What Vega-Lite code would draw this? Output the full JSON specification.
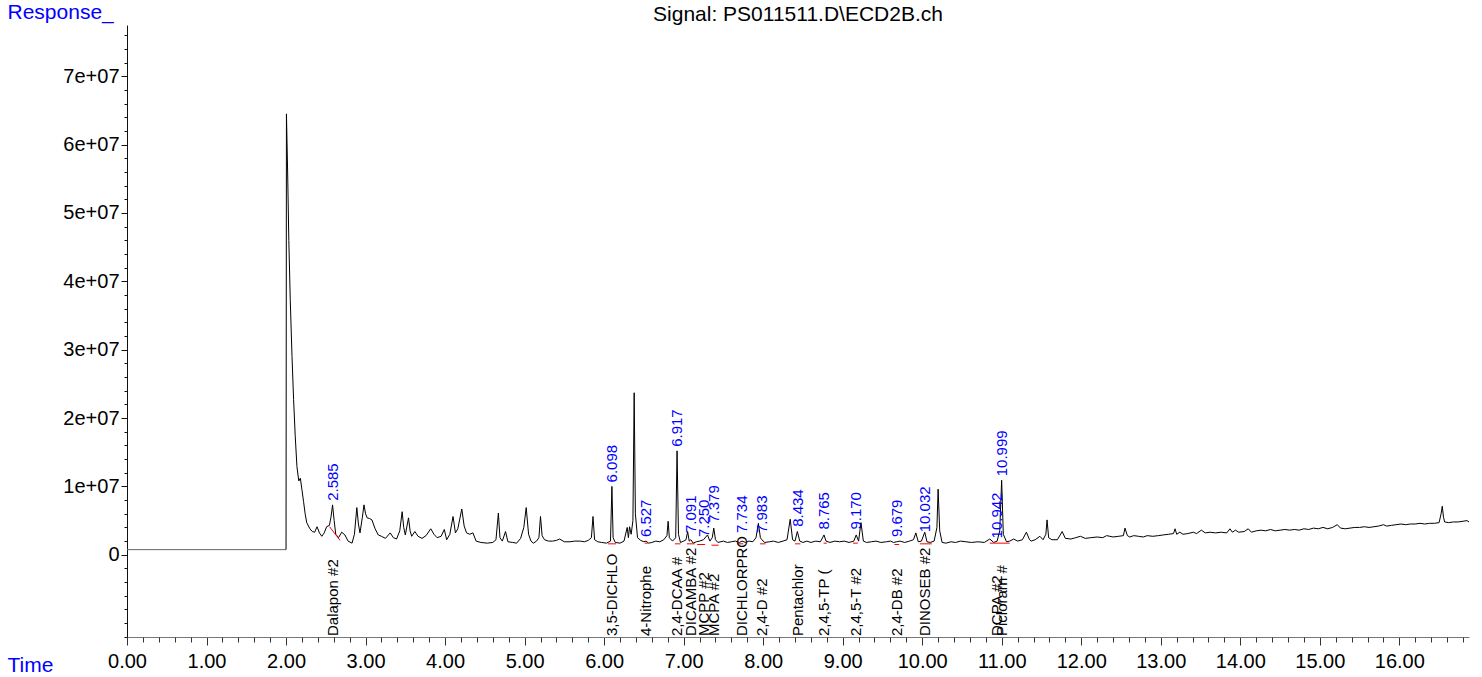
{
  "$schema": "https://vega.github.io/schema/vega-lite/v6.json",
  "autosize": {"type": "none"},
  "width": 1342,
  "height": 612,
  "padding": {"left": 127, "top": 25, "right": 13, "bottom": 40},
  "background": "white",
  "config": {
    "view": {"stroke": null},
    "font": "Liberation Sans",
    "axis": {"labelFont": "Liberation Sans", "titleFont": "Liberation Sans", "labelColor": "black", "grid": false}
  },
  "title": {"text": "Signal: PS011511.D\\ECD2B.ch", "anchor": "middle", "frame": "group", "font": "Liberation Sans", "fontSize": 21, "fontWeight": "normal", "color": "black", "offset": -24},
  "datasets": {
    "trace": [
      {"t": 0, "v": 7.5e5, "part": "delay"}, {"t": 2.0, "v": 7.5e5, "part": "delay"},
      {"t": 2.0, "v": 7.5e5, "part": "signal"}, {"t": 2.005, "v": 6.45e7, "part": "signal"}, {"t": 2.02, "v": 5.6e7, "part": "signal"}, {"t": 2.035, "v": 4.6e7, "part": "signal"}, {"t": 2.053, "v": 3.73e7, "part": "signal"}, {"t": 2.075, "v": 2.9e7, "part": "signal"}, {"t": 2.095, "v": 2.27e7, "part": "signal"}, {"t": 2.115, "v": 1.75e7, "part": "signal"}, {"t": 2.137, "v": 1.29e7, "part": "signal"}, {"t": 2.16, "v": 1.08e7, "part": "signal"}, {"t": 2.18, "v": 1.12e7, "part": "signal"}, {"t": 2.2, "v": 0.95e7, "part": "signal"}, {"t": 2.22, "v": 0.78e7, "part": "signal"}, {"t": 2.24, "v": 0.6e7, "part": "signal"}, {"t": 2.26, "v": 0.47e7, "part": "signal"}, {"t": 2.3, "v": 0.38e7, "part": "signal"}, {"t": 2.33, "v": 0.34e7, "part": "signal"}, {"t": 2.36, "v": 0.33e7, "part": "signal"}, {"t": 2.39, "v": 0.41e7, "part": "signal"}, {"t": 2.42, "v": 0.32e7, "part": "signal"}, {"t": 2.45, "v": 0.27e7, "part": "signal"}, {"t": 2.48, "v": 0.32e7, "part": "signal"}, {"t": 2.51, "v": 0.41e7, "part": "signal"}, {"t": 2.545, "v": 0.43e7, "part": "signal"}, {"t": 2.565, "v": 0.55e7, "part": "signal"}, {"t": 2.585, "v": 0.73e7, "part": "signal"}, {"t": 2.605, "v": 0.5e7, "part": "signal"}, {"t": 2.625, "v": 0.3e7, "part": "signal"}, {"t": 2.66, "v": 0.25e7, "part": "signal"}, {"t": 2.7, "v": 0.33e7, "part": "signal"}, {"t": 2.74, "v": 0.29e7, "part": "signal"}, {"t": 2.78, "v": 0.2e7, "part": "signal"}, {"t": 2.83, "v": 0.17e7, "part": "signal"}, {"t": 2.86, "v": 0.3e7, "part": "signal"}, {"t": 2.89, "v": 0.69e7, "part": "signal"}, {"t": 2.91, "v": 0.45e7, "part": "signal"}, {"t": 2.93, "v": 0.32e7, "part": "signal"}, {"t": 2.96, "v": 0.55e7, "part": "signal"}, {"t": 2.98, "v": 0.73e7, "part": "signal"}, {"t": 3.0, "v": 0.6e7, "part": "signal"}, {"t": 3.02, "v": 0.54e7, "part": "signal"}, {"t": 3.05, "v": 0.53e7, "part": "signal"}, {"t": 3.08, "v": 0.51e7, "part": "signal"}, {"t": 3.12, "v": 0.38e7, "part": "signal"}, {"t": 3.16, "v": 0.29e7, "part": "signal"}, {"t": 3.2, "v": 0.27e7, "part": "signal"}, {"t": 3.25, "v": 0.24e7, "part": "signal"}, {"t": 3.31, "v": 0.32e7, "part": "signal"}, {"t": 3.35, "v": 0.25e7, "part": "signal"}, {"t": 3.39, "v": 0.23e7, "part": "signal"}, {"t": 3.43, "v": 0.35e7, "part": "signal"}, {"t": 3.46, "v": 0.63e7, "part": "signal"}, {"t": 3.48, "v": 0.4e7, "part": "signal"}, {"t": 3.5, "v": 0.29e7, "part": "signal"}, {"t": 3.54, "v": 0.54e7, "part": "signal"}, {"t": 3.56, "v": 0.35e7, "part": "signal"}, {"t": 3.58, "v": 0.27e7, "part": "signal"}, {"t": 3.62, "v": 0.34e7, "part": "signal"}, {"t": 3.66, "v": 0.27e7, "part": "signal"}, {"t": 3.71, "v": 0.24e7, "part": "signal"}, {"t": 3.76, "v": 0.28e7, "part": "signal"}, {"t": 3.82, "v": 0.38e7, "part": "signal"}, {"t": 3.86, "v": 0.3e7, "part": "signal"}, {"t": 3.9, "v": 0.25e7, "part": "signal"}, {"t": 3.95, "v": 0.27e7, "part": "signal"}, {"t": 3.99, "v": 0.37e7, "part": "signal"}, {"t": 4.02, "v": 0.22e7, "part": "signal"}, {"t": 4.06, "v": 0.3e7, "part": "signal"}, {"t": 4.1, "v": 0.56e7, "part": "signal"}, {"t": 4.13, "v": 0.32e7, "part": "signal"}, {"t": 4.16, "v": 0.38e7, "part": "signal"}, {"t": 4.21, "v": 0.67e7, "part": "signal"}, {"t": 4.24, "v": 0.42e7, "part": "signal"}, {"t": 4.27, "v": 0.32e7, "part": "signal"}, {"t": 4.31, "v": 0.3e7, "part": "signal"}, {"t": 4.35, "v": 0.32e7, "part": "signal"}, {"t": 4.39, "v": 0.2e7, "part": "signal"}, {"t": 4.45, "v": 0.18e7, "part": "signal"}, {"t": 4.53, "v": 0.17e7, "part": "signal"}, {"t": 4.6, "v": 0.18e7, "part": "signal"}, {"t": 4.64, "v": 0.22e7, "part": "signal"}, {"t": 4.67, "v": 0.61e7, "part": "signal"}, {"t": 4.69, "v": 0.25e7, "part": "signal"}, {"t": 4.72, "v": 0.2e7, "part": "signal"}, {"t": 4.76, "v": 0.34e7, "part": "signal"}, {"t": 4.79, "v": 0.19e7, "part": "signal"}, {"t": 4.85, "v": 0.18e7, "part": "signal"}, {"t": 4.9, "v": 0.17e7, "part": "signal"}, {"t": 4.95, "v": 0.24e7, "part": "signal"}, {"t": 4.99, "v": 0.4e7, "part": "signal"}, {"t": 5.02, "v": 0.69e7, "part": "signal"}, {"t": 5.05, "v": 0.3e7, "part": "signal"}, {"t": 5.08, "v": 0.2e7, "part": "signal"}, {"t": 5.11, "v": 0.17e7, "part": "signal"}, {"t": 5.15, "v": 0.2e7, "part": "signal"}, {"t": 5.18, "v": 0.25e7, "part": "signal"}, {"t": 5.2, "v": 0.56e7, "part": "signal"}, {"t": 5.22, "v": 0.28e7, "part": "signal"}, {"t": 5.25, "v": 0.22e7, "part": "signal"}, {"t": 5.3, "v": 0.2e7, "part": "signal"}, {"t": 5.35, "v": 0.2e7, "part": "signal"}, {"t": 5.4, "v": 0.21e7, "part": "signal"}, {"t": 5.44, "v": 0.23e7, "part": "signal"}, {"t": 5.5, "v": 0.19e7, "part": "signal"}, {"t": 5.57, "v": 0.19e7, "part": "signal"}, {"t": 5.63, "v": 0.2e7, "part": "signal"}, {"t": 5.7, "v": 0.2e7, "part": "signal"}, {"t": 5.75, "v": 0.19e7, "part": "signal"}, {"t": 5.8, "v": 0.21e7, "part": "signal"}, {"t": 5.84, "v": 0.25e7, "part": "signal"}, {"t": 5.86, "v": 0.56e7, "part": "signal"}, {"t": 5.88, "v": 0.22e7, "part": "signal"}, {"t": 5.92, "v": 0.19e7, "part": "signal"}, {"t": 5.97, "v": 0.18e7, "part": "signal"}, {"t": 6.03, "v": 0.17e7, "part": "signal"}, {"t": 6.08, "v": 0.2e7, "part": "signal"}, {"t": 6.098, "v": 1.0e7, "part": "signal"}, {"t": 6.113, "v": 0.25e7, "part": "signal"}, {"t": 6.14, "v": 0.18e7, "part": "signal"}, {"t": 6.2, "v": 0.17e7, "part": "signal"}, {"t": 6.25, "v": 0.2e7, "part": "signal"}, {"t": 6.29, "v": 0.4e7, "part": "signal"}, {"t": 6.305, "v": 0.25e7, "part": "signal"}, {"t": 6.32, "v": 0.41e7, "part": "signal"}, {"t": 6.34, "v": 0.3e7, "part": "signal"}, {"t": 6.362, "v": 0.5e7, "part": "signal"}, {"t": 6.378, "v": 2.37e7, "part": "signal"}, {"t": 6.393, "v": 0.6e7, "part": "signal"}, {"t": 6.42, "v": 0.25e7, "part": "signal"}, {"t": 6.46, "v": 0.21e7, "part": "signal"}, {"t": 6.5, "v": 0.19e7, "part": "signal"}, {"t": 6.527, "v": 0.2e7, "part": "signal"}, {"t": 6.56, "v": 0.17e7, "part": "signal"}, {"t": 6.6, "v": 0.18e7, "part": "signal"}, {"t": 6.65, "v": 0.2e7, "part": "signal"}, {"t": 6.7, "v": 0.19e7, "part": "signal"}, {"t": 6.75, "v": 0.22e7, "part": "signal"}, {"t": 6.79, "v": 0.28e7, "part": "signal"}, {"t": 6.805, "v": 0.49e7, "part": "signal"}, {"t": 6.82, "v": 0.25e7, "part": "signal"}, {"t": 6.86, "v": 0.2e7, "part": "signal"}, {"t": 6.9, "v": 0.25e7, "part": "signal"}, {"t": 6.917, "v": 1.52e7, "part": "signal"}, {"t": 6.935, "v": 0.3e7, "part": "signal"}, {"t": 6.96, "v": 0.18e7, "part": "signal"}, {"t": 7.0, "v": 0.2e7, "part": "signal"}, {"t": 7.03, "v": 0.22e7, "part": "signal"}, {"t": 7.05, "v": 0.34e7, "part": "signal"}, {"t": 7.07, "v": 0.2e7, "part": "signal"}, {"t": 7.091, "v": 0.22e7, "part": "signal"}, {"t": 7.12, "v": 0.17e7, "part": "signal"}, {"t": 7.16, "v": 0.19e7, "part": "signal"}, {"t": 7.2, "v": 0.2e7, "part": "signal"}, {"t": 7.25, "v": 0.22e7, "part": "signal"}, {"t": 7.3, "v": 0.29e7, "part": "signal"}, {"t": 7.33, "v": 0.2e7, "part": "signal"}, {"t": 7.36, "v": 0.25e7, "part": "signal"}, {"t": 7.379, "v": 0.39e7, "part": "signal"}, {"t": 7.4, "v": 0.22e7, "part": "signal"}, {"t": 7.43, "v": 0.18e7, "part": "signal"}, {"t": 7.5, "v": 0.2e7, "part": "signal"}, {"t": 7.55, "v": 0.18e7, "part": "signal"}, {"t": 7.6, "v": 0.19e7, "part": "signal"}, {"t": 7.65, "v": 0.2e7, "part": "signal"}, {"t": 7.7, "v": 0.18e7, "part": "signal"}, {"t": 7.734, "v": 0.2e7, "part": "signal"}, {"t": 7.78, "v": 0.18e7, "part": "signal"}, {"t": 7.82, "v": 0.2e7, "part": "signal"}, {"t": 7.87, "v": 0.19e7, "part": "signal"}, {"t": 7.91, "v": 0.25e7, "part": "signal"}, {"t": 7.94, "v": 0.46e7, "part": "signal"}, {"t": 7.965, "v": 0.25e7, "part": "signal"}, {"t": 7.983, "v": 0.22e7, "part": "signal"}, {"t": 8.02, "v": 0.18e7, "part": "signal"}, {"t": 8.08, "v": 0.19e7, "part": "signal"}, {"t": 8.13, "v": 0.2e7, "part": "signal"}, {"t": 8.19, "v": 0.18e7, "part": "signal"}, {"t": 8.25, "v": 0.2e7, "part": "signal"}, {"t": 8.3, "v": 0.22e7, "part": "signal"}, {"t": 8.34, "v": 0.52e7, "part": "signal"}, {"t": 8.37, "v": 0.22e7, "part": "signal"}, {"t": 8.4, "v": 0.2e7, "part": "signal"}, {"t": 8.43, "v": 0.34e7, "part": "signal"}, {"t": 8.46, "v": 0.2e7, "part": "signal"}, {"t": 8.5, "v": 0.18e7, "part": "signal"}, {"t": 8.55, "v": 0.2e7, "part": "signal"}, {"t": 8.6, "v": 0.18e7, "part": "signal"}, {"t": 8.66, "v": 0.2e7, "part": "signal"}, {"t": 8.72, "v": 0.19e7, "part": "signal"}, {"t": 8.765, "v": 0.29e7, "part": "signal"}, {"t": 8.79, "v": 0.2e7, "part": "signal"}, {"t": 8.84, "v": 0.18e7, "part": "signal"}, {"t": 8.9, "v": 0.2e7, "part": "signal"}, {"t": 8.96, "v": 0.19e7, "part": "signal"}, {"t": 9.02, "v": 0.2e7, "part": "signal"}, {"t": 9.08, "v": 0.18e7, "part": "signal"}, {"t": 9.14, "v": 0.2e7, "part": "signal"}, {"t": 9.17, "v": 0.29e7, "part": "signal"}, {"t": 9.2, "v": 0.2e7, "part": "signal"}, {"t": 9.23, "v": 0.47e7, "part": "signal"}, {"t": 9.26, "v": 0.2e7, "part": "signal"}, {"t": 9.3, "v": 0.18e7, "part": "signal"}, {"t": 9.36, "v": 0.19e7, "part": "signal"}, {"t": 9.42, "v": 0.2e7, "part": "signal"}, {"t": 9.48, "v": 0.18e7, "part": "signal"}, {"t": 9.55, "v": 0.19e7, "part": "signal"}, {"t": 9.6, "v": 0.2e7, "part": "signal"}, {"t": 9.64, "v": 0.18e7, "part": "signal"}, {"t": 9.679, "v": 0.19e7, "part": "signal"}, {"t": 9.72, "v": 0.2e7, "part": "signal"}, {"t": 9.78, "v": 0.18e7, "part": "signal"}, {"t": 9.84, "v": 0.2e7, "part": "signal"}, {"t": 9.89, "v": 0.22e7, "part": "signal"}, {"t": 9.92, "v": 0.32e7, "part": "signal"}, {"t": 9.95, "v": 0.19e7, "part": "signal"}, {"t": 9.99, "v": 0.2e7, "part": "signal"}, {"t": 10.032, "v": 0.33e7, "part": "signal"}, {"t": 10.06, "v": 0.19e7, "part": "signal"}, {"t": 10.1, "v": 0.18e7, "part": "signal"}, {"t": 10.15, "v": 0.2e7, "part": "signal"}, {"t": 10.185, "v": 0.4e7, "part": "signal"}, {"t": 10.2, "v": 0.96e7, "part": "signal"}, {"t": 10.22, "v": 0.35e7, "part": "signal"}, {"t": 10.25, "v": 0.18e7, "part": "signal"}, {"t": 10.3, "v": 0.17e7, "part": "signal"}, {"t": 10.36, "v": 0.19e7, "part": "signal"}, {"t": 10.42, "v": 0.18e7, "part": "signal"}, {"t": 10.48, "v": 0.2e7, "part": "signal"}, {"t": 10.55, "v": 0.19e7, "part": "signal"}, {"t": 10.62, "v": 0.18e7, "part": "signal"}, {"t": 10.7, "v": 0.19e7, "part": "signal"}, {"t": 10.78, "v": 0.18e7, "part": "signal"}, {"t": 10.85, "v": 0.23e7, "part": "signal"}, {"t": 10.9, "v": 0.18e7, "part": "signal"}, {"t": 10.942, "v": 0.2e7, "part": "signal"}, {"t": 10.975, "v": 0.35e7, "part": "signal"}, {"t": 10.999, "v": 1.09e7, "part": "signal"}, {"t": 11.02, "v": 0.3e7, "part": "signal"}, {"t": 11.06, "v": 0.19e7, "part": "signal"}, {"t": 11.1, "v": 0.2e7, "part": "signal"}, {"t": 11.15, "v": 0.23e7, "part": "signal"}, {"t": 11.2, "v": 0.2e7, "part": "signal"}, {"t": 11.26, "v": 0.22e7, "part": "signal"}, {"t": 11.31, "v": 0.33e7, "part": "signal"}, {"t": 11.35, "v": 0.22e7, "part": "signal"}, {"t": 11.37, "v": 0.2e7, "part": "signal"}, {"t": 11.42, "v": 0.22e7, "part": "signal"}, {"t": 11.48, "v": 0.27e7, "part": "signal"}, {"t": 11.52, "v": 0.22e7, "part": "signal"}, {"t": 11.555, "v": 0.3e7, "part": "signal"}, {"t": 11.57, "v": 0.51e7, "part": "signal"}, {"t": 11.59, "v": 0.25e7, "part": "signal"}, {"t": 11.63, "v": 0.22e7, "part": "signal"}, {"t": 11.7, "v": 0.22e7, "part": "signal"}, {"t": 11.76, "v": 0.34e7, "part": "signal"}, {"t": 11.8, "v": 0.24e7, "part": "signal"}, {"t": 11.87, "v": 0.23e7, "part": "signal"}, {"t": 11.93, "v": 0.25e7, "part": "signal"}, {"t": 11.99, "v": 0.27e7, "part": "signal"}, {"t": 12.05, "v": 0.24e7, "part": "signal"}, {"t": 12.12, "v": 0.25e7, "part": "signal"}, {"t": 12.2, "v": 0.26e7, "part": "signal"}, {"t": 12.27, "v": 0.25e7, "part": "signal"}, {"t": 12.32, "v": 0.28e7, "part": "signal"}, {"t": 12.4, "v": 0.26e7, "part": "signal"}, {"t": 12.47, "v": 0.27e7, "part": "signal"}, {"t": 12.53, "v": 0.28e7, "part": "signal"}, {"t": 12.55, "v": 0.39e7, "part": "signal"}, {"t": 12.58, "v": 0.28e7, "part": "signal"}, {"t": 12.61, "v": 0.26e7, "part": "signal"}, {"t": 12.66, "v": 0.28e7, "part": "signal"}, {"t": 12.72, "v": 0.27e7, "part": "signal"}, {"t": 12.78, "v": 0.26e7, "part": "signal"}, {"t": 12.83, "v": 0.28e7, "part": "signal"}, {"t": 12.9, "v": 0.27e7, "part": "signal"}, {"t": 12.97, "v": 0.28e7, "part": "signal"}, {"t": 13.03, "v": 0.29e7, "part": "signal"}, {"t": 13.1, "v": 0.3e7, "part": "signal"}, {"t": 13.16, "v": 0.31e7, "part": "signal"}, {"t": 13.18, "v": 0.38e7, "part": "signal"}, {"t": 13.2, "v": 0.3e7, "part": "signal"}, {"t": 13.24, "v": 0.33e7, "part": "signal"}, {"t": 13.28, "v": 0.3e7, "part": "signal"}, {"t": 13.34, "v": 0.31e7, "part": "signal"}, {"t": 13.41, "v": 0.33e7, "part": "signal"}, {"t": 13.45, "v": 0.31e7, "part": "signal"}, {"t": 13.51, "v": 0.36e7, "part": "signal"}, {"t": 13.56, "v": 0.32e7, "part": "signal"}, {"t": 13.62, "v": 0.33e7, "part": "signal"}, {"t": 13.69, "v": 0.32e7, "part": "signal"}, {"t": 13.76, "v": 0.33e7, "part": "signal"}, {"t": 13.83, "v": 0.32e7, "part": "signal"}, {"t": 13.87, "v": 0.38e7, "part": "signal"}, {"t": 13.9, "v": 0.33e7, "part": "signal"}, {"t": 13.94, "v": 0.36e7, "part": "signal"}, {"t": 13.98, "v": 0.33e7, "part": "signal"}, {"t": 14.05, "v": 0.34e7, "part": "signal"}, {"t": 14.1, "v": 0.38e7, "part": "signal"}, {"t": 14.14, "v": 0.33e7, "part": "signal"}, {"t": 14.2, "v": 0.35e7, "part": "signal"}, {"t": 14.26, "v": 0.36e7, "part": "signal"}, {"t": 14.32, "v": 0.35e7, "part": "signal"}, {"t": 14.38, "v": 0.37e7, "part": "signal"}, {"t": 14.44, "v": 0.35e7, "part": "signal"}, {"t": 14.5, "v": 0.36e7, "part": "signal"}, {"t": 14.56, "v": 0.37e7, "part": "signal"}, {"t": 14.62, "v": 0.36e7, "part": "signal"}, {"t": 14.68, "v": 0.37e7, "part": "signal"}, {"t": 14.74, "v": 0.36e7, "part": "signal"}, {"t": 14.8, "v": 0.38e7, "part": "signal"}, {"t": 14.86, "v": 0.37e7, "part": "signal"}, {"t": 14.92, "v": 0.39e7, "part": "signal"}, {"t": 14.98, "v": 0.38e7, "part": "signal"}, {"t": 15.04, "v": 0.4e7, "part": "signal"}, {"t": 15.1, "v": 0.38e7, "part": "signal"}, {"t": 15.16, "v": 0.4e7, "part": "signal"}, {"t": 15.22, "v": 0.44e7, "part": "signal"}, {"t": 15.26, "v": 0.39e7, "part": "signal"}, {"t": 15.32, "v": 0.38e7, "part": "signal"}, {"t": 15.38, "v": 0.39e7, "part": "signal"}, {"t": 15.44, "v": 0.4e7, "part": "signal"}, {"t": 15.5, "v": 0.4e7, "part": "signal"}, {"t": 15.56, "v": 0.41e7, "part": "signal"}, {"t": 15.62, "v": 0.4e7, "part": "signal"}, {"t": 15.68, "v": 0.41e7, "part": "signal"}, {"t": 15.74, "v": 0.42e7, "part": "signal"}, {"t": 15.8, "v": 0.44e7, "part": "signal"}, {"t": 15.84, "v": 0.42e7, "part": "signal"}, {"t": 15.9, "v": 0.43e7, "part": "signal"}, {"t": 15.96, "v": 0.44e7, "part": "signal"}, {"t": 16.02, "v": 0.45e7, "part": "signal"}, {"t": 16.08, "v": 0.44e7, "part": "signal"}, {"t": 16.14, "v": 0.45e7, "part": "signal"}, {"t": 16.2, "v": 0.45e7, "part": "signal"}, {"t": 16.26, "v": 0.46e7, "part": "signal"}, {"t": 16.32, "v": 0.45e7, "part": "signal"}, {"t": 16.38, "v": 0.46e7, "part": "signal"}, {"t": 16.44, "v": 0.46e7, "part": "signal"}, {"t": 16.5, "v": 0.47e7, "part": "signal"}, {"t": 16.525, "v": 0.6e7, "part": "signal"}, {"t": 16.54, "v": 0.71e7, "part": "signal"}, {"t": 16.555, "v": 0.55e7, "part": "signal"}, {"t": 16.57, "v": 0.48e7, "part": "signal"}, {"t": 16.62, "v": 0.47e7, "part": "signal"}, {"t": 16.68, "v": 0.48e7, "part": "signal"}, {"t": 16.74, "v": 0.48e7, "part": "signal"}, {"t": 16.8, "v": 0.49e7, "part": "signal"}, {"t": 16.85, "v": 0.5e7, "part": "signal"}, {"t": 16.876, "v": 0.48e7, "part": "signal"}
    ],
    "baselines": [
      {"peak": "2.585", "t": 2.547, "v": 0.41e7}, {"peak": "2.585", "t": 2.68, "v": 0.21e7},
      {"peak": "6.098", "t": 6.05, "v": 0.16e7}, {"peak": "6.098", "t": 6.15, "v": 0.16e7},
      {"peak": "6.527", "t": 6.51, "v": 0.17e7}, {"peak": "6.527", "t": 6.55, "v": 0.17e7},
      {"peak": "6.917", "t": 6.89, "v": 0.16e7}, {"peak": "6.917", "t": 6.96, "v": 0.16e7},
      {"peak": "7.091", "t": 7.04, "v": 0.16e7}, {"peak": "7.091", "t": 7.14, "v": 0.16e7},
      {"peak": "7.250", "t": 7.17, "v": 0.15e7}, {"peak": "7.250", "t": 7.27, "v": 0.15e7},
      {"peak": "7.379", "t": 7.35, "v": 0.14e7}, {"peak": "7.379", "t": 7.44, "v": 0.14e7},
      {"peak": "7.734", "t": 7.67, "v": 0.16e7}, {"peak": "7.734", "t": 7.75, "v": 0.16e7},
      {"peak": "7.983", "t": 7.96, "v": 0.16e7}, {"peak": "7.983", "t": 8.03, "v": 0.16e7},
      {"peak": "8.434", "t": 8.4, "v": 0.16e7}, {"peak": "8.434", "t": 8.47, "v": 0.16e7},
      {"peak": "8.765", "t": 8.76, "v": 0.17e7}, {"peak": "8.765", "t": 8.8, "v": 0.17e7},
      {"peak": "9.170", "t": 9.13, "v": 0.17e7}, {"peak": "9.170", "t": 9.19, "v": 0.17e7},
      {"peak": "9.679", "t": 9.65, "v": 0.15e7}, {"peak": "9.679", "t": 9.71, "v": 0.15e7},
      {"peak": "10.032", "t": 9.97, "v": 0.16e7}, {"peak": "10.032", "t": 10.12, "v": 0.16e7},
      {"peak": "10.999", "t": 10.85, "v": 0.17e7}, {"peak": "10.999", "t": 11.1, "v": 0.17e7}
    ],
    "peaks": [
      {"rt": 2.585, "label": "2.585", "apex": 0.73e7, "compound": "Dalapon #2"},
      {"rt": 6.098, "label": "6.098", "apex": 1.0e7, "compound": "3,5-DICHLO"},
      {"rt": 6.527, "label": "6.527", "apex": 0.2e7, "compound": "4-Nitrophe"},
      {"rt": 6.917, "label": "6.917", "apex": 1.52e7, "compound": "2,4-DCAA #"},
      {"rt": 7.091, "label": "7.091", "apex": 0.26e7, "compound": "DICAMBA #2"},
      {"rt": 7.25, "label": "7.250", "apex": 0.2e7, "compound": "MCPP #2"},
      {"rt": 7.379, "label": "7.379", "apex": 0.41e7, "compound": "MCPA #2"},
      {"rt": 7.734, "label": "7.734", "apex": 0.26e7, "compound": "DICHLORPRO"},
      {"rt": 7.983, "label": "7.983", "apex": 0.26e7, "compound": "2,4-D #2"},
      {"rt": 8.434, "label": "8.434", "apex": 0.35e7, "compound": "Pentachlor"},
      {"rt": 8.765, "label": "8.765", "apex": 0.31e7, "compound": "2,4,5-TP ("},
      {"rt": 9.17, "label": "9.170", "apex": 0.31e7, "compound": "2,4,5-T #2"},
      {"rt": 9.679, "label": "9.679", "apex": 0.2e7, "compound": "2,4-DB #2"},
      {"rt": 10.032, "label": "10.032", "apex": 0.27e7, "compound": "DINOSEB #2"},
      {"rt": 10.942, "label": "10.942", "apex": 0.18e7, "compound": "DCPA #2"},
      {"rt": 10.999, "label": "10.999", "apex": 1.09e7, "compound": "Picloram #"}
    ]
  },
  "resolve": {"axis": {"x": "independent", "y": "independent"}},
  "layer": [
    {
      "data": {"name": "trace"},
      "mark": {"type": "line", "strokeWidth": 1, "interpolate": "linear"},
      "encoding": {
        "x": {"field": "t", "type": "quantitative", "scale": {"domain": [0, 16.876], "nice": false, "zero": false},
          "axis": {"orient": "bottom", "values": [0,1,2,3,4,5,6,7,8,9,10,11,12,13,14,15,16], "format": ".2f", "tickSize": 8, "tickColor": "#333", "domainColor": "#777", "labelFontSize": 20, "labelPadding": 6, "labelFlush": false, "labelOverlap": false,
            "title": "Time", "titleColor": "#0000FF", "titleFontSize": 21, "titleFontWeight": "normal", "titleAngle": 0, "titleAlign": "left", "titleBaseline": "alphabetic", "titleX": -120, "titleY": 34}},
        "y": {"field": "v", "type": "quantitative", "scale": {"domain": [-12030000, 77500000], "nice": false, "zero": false},
          "axis": {"orient": "left", "values": [0, 10000000, 20000000, 30000000, 40000000, 50000000, 60000000, 70000000], "labelExpr": "datum.value == 0 ? '0' : (datum.value / 10000000) + 'e+07'", "tickSize": 6, "tickColor": "#111", "domainColor": "#111", "labelFontSize": 20, "labelPadding": 2, "labelFlush": false, "labelOverlap": false,
            "title": "Response_", "titleColor": "#0000FF", "titleFontSize": 21, "titleFontWeight": "normal", "titleAngle": 0, "titleAlign": "left", "titleBaseline": "alphabetic", "titleX": -120, "titleY": -7}},
        "color": {"field": "part", "type": "nominal", "scale": {"domain": ["delay", "signal"], "range": ["#666666", "#000000"]}, "legend": null}
      }
    },
    {
      "data": {"name": "baselines"},
      "mark": {"type": "line", "strokeWidth": 1, "color": "#FF0000"},
      "encoding": {
        "x": {"field": "t", "type": "quantitative",
          "axis": {"orient": "bottom", "values": [0.2,0.4,0.6,0.8,1.2,1.4,1.6,1.8,2.2,2.4,2.6,2.8,3.2,3.4,3.6,3.8,4.2,4.4,4.6,4.8,5.2,5.4,5.6,5.8,6.2,6.4,6.6,6.8,7.2,7.4,7.6,7.8,8.2,8.4,8.6,8.8,9.2,9.4,9.6,9.8,10.2,10.4,10.6,10.8,11.2,11.4,11.6,11.8,12.2,12.4,12.6,12.8,13.2,13.4,13.6,13.8,14.2,14.4,14.6,14.8,15.2,15.4,15.6,15.8,16.2,16.4,16.6,16.8], "labels": false, "domain": false, "tickSize": 5, "tickColor": "#333", "title": null}},
        "y": {"field": "v", "type": "quantitative",
          "axis": {"orient": "left", "values": [-12000000,-10000000,-8000000,-6000000,-4000000,-2000000,2000000,4000000,6000000,8000000,12000000,14000000,16000000,18000000,22000000,24000000,26000000,28000000,32000000,34000000,36000000,38000000,42000000,44000000,46000000,48000000,52000000,54000000,56000000,58000000,62000000,64000000,66000000,68000000,72000000,74000000,76000000], "labels": false, "domain": false, "tickSize": 3, "tickColor": "#111", "title": null}},
        "detail": {"field": "peak", "type": "nominal"}
      }
    },
    {
      "data": {"name": "peaks"},
      "mark": {"type": "text", "angle": 270, "align": "left", "baseline": "middle", "dx": 4, "font": "Liberation Sans", "fontSize": 15, "color": "#0000FF"},
      "encoding": {
        "x": {"field": "rt", "type": "quantitative", "axis": null},
        "y": {"field": "apex", "type": "quantitative", "axis": null},
        "text": {"field": "label", "type": "nominal"}
      }
    },
    {
      "data": {"name": "peaks"},
      "mark": {"type": "text", "angle": 270, "align": "left", "baseline": "middle", "dx": 1, "font": "Liberation Sans", "fontSize": 15, "color": "#000000"},
      "encoding": {
        "x": {"field": "rt", "type": "quantitative", "axis": null},
        "y": {"datum": -12030000, "type": "quantitative", "axis": null},
        "text": {"field": "compound", "type": "nominal"}
      }
    }
  ]
}
